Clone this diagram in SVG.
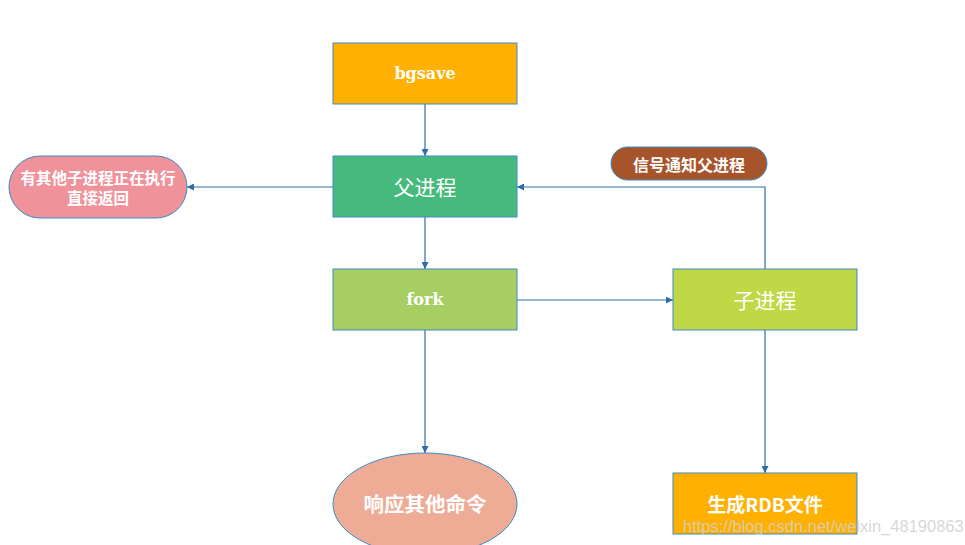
<svg xmlns="http://www.w3.org/2000/svg" width="965" height="545" viewBox="0 0 965 545">
<style>
.box{stroke:#3C8CC8;stroke-width:1}
.ln{fill:none;stroke:#2E6EA6;stroke-width:1.2}
.t{fill:#fff;text-anchor:middle;dominant-baseline:central}
.serif{font-family:"DejaVu Serif","Liberation Serif","Noto Sans CJK SC",serif;font-weight:bold}
.cjk{font-family:"Noto Sans CJK SC","Liberation Sans",sans-serif}
.bold{font-weight:bold}
</style>
<defs>
<marker id="ar" viewBox="0 0 10 10" refX="10" refY="5" markerWidth="7" markerHeight="7" orient="auto" markerUnits="userSpaceOnUse">
<path d="M0,0 L10,5 L0,10 z" fill="#2E6EA6"/>
</marker>
</defs>
<rect width="965" height="545" fill="#fff"/>
<g id="connectors">
<line class="ln" x1="425" y1="104" x2="425" y2="156" marker-end="url(#ar)"/>
<line class="ln" x1="333" y1="187" x2="187" y2="187" marker-end="url(#ar)"/>
<line class="ln" x1="425" y1="217" x2="425" y2="269" marker-end="url(#ar)"/>
<line class="ln" x1="517" y1="300" x2="673" y2="300" marker-end="url(#ar)"/>
<line class="ln" x1="425" y1="330" x2="425" y2="453" marker-end="url(#ar)"/>
<polyline class="ln" points="765,269 765,187 517,187" marker-end="url(#ar)"/>
<line class="ln" x1="765" y1="330" x2="765" y2="473" marker-end="url(#ar)"/>
</g>
<g id="bgsave">
<rect class="box" x="333" y="43" width="184" height="61" fill="#FFB000"/>
<text class="t serif" x="425" y="73" font-size="16">bgsave</text>
</g>
<g id="parent">
<rect class="box" x="333" y="156" width="184" height="61" fill="#46BA7C"/>
<text class="t cjk" x="425" y="186" font-size="21">父进程</text>
</g>
<g id="busy">
<rect class="box" x="9" y="156" width="178" height="62" rx="31" ry="31" fill="#F0929A"/>
<text class="t cjk bold" x="98" y="177" font-size="15.5">有其他子进程正在执行</text>
<text class="t cjk bold" x="98" y="197" font-size="15.5">直接返回</text>
</g>
<g id="fork">
<rect class="box" x="333" y="269" width="184" height="61" fill="#A6CE63"/>
<text class="t serif" x="425" y="299" font-size="16">fork</text>
</g>
<g id="child">
<rect class="box" x="673" y="269" width="184" height="61" fill="#C0D845"/>
<text class="t cjk" x="765" y="299" font-size="21">子进程</text>
</g>
<g id="signal">
<rect class="box" x="611" y="147" width="156" height="33" rx="16.5" ry="16.5" fill="#A8542A"/>
<text class="t cjk bold" x="689" y="163.5" font-size="16">信号通知父进程</text>
</g>
<g id="respond">
<ellipse class="box" cx="425" cy="504" rx="92" ry="51" fill="#EEAB95"/>
<text class="t cjk bold" x="425" y="503" font-size="20.5">响应其他命令</text>
</g>
<g id="rdb">
<rect class="box" x="673" y="473" width="184" height="61" fill="#FFB000"/>
<text class="t cjk bold" x="765" y="503" font-size="19">生成RDB文件</text>
</g>
<text x="683" y="532" font-family="Liberation Sans,Arial,sans-serif" font-size="16.5" fill="#d0d0d0" fill-opacity="0.85">https://blog.csdn.net/weixin_48190863</text>
</svg>
